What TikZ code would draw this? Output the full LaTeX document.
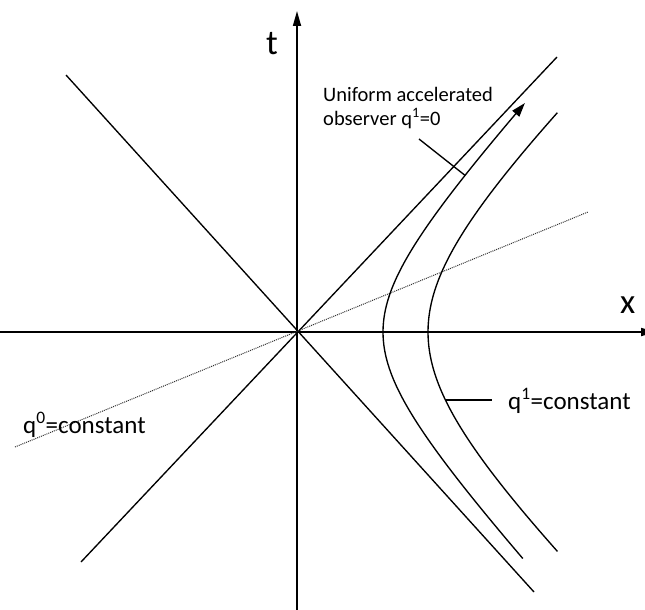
\documentclass[tikz,border=0pt]{standalone}
\usepackage{fontspec}
\setmainfont{Carlito}
\usetikzlibrary{arrows.meta}
\begin{document}
\begin{tikzpicture}[x=1pt,y=-1pt,
  axisline/.style={line width=1.7pt,black},
  thinline/.style={line width=1.35pt,black},
  dotline/.style={line width=1pt,black!80,dash pattern=on 1pt off 1pt},
  lbl/.style={inner sep=0pt,anchor=base west},
  smalltxt/.style={font=\fontsize{20.5}{24}\selectfont},
  midtxt/.style={font=\fontsize{25}{30}\selectfont},
  bigtxt/.style={font=\fontsize{35}{40}\selectfont}]
\useasboundingbox (0,0) rectangle (645,610);
\clip (0,0) rectangle (645,610);
% axes
\coordinate (O) at (297,332);
\coordinate (tb) at (297,615);
\coordinate (tt) at (297,11);
\coordinate (xl) at (-5,332);
\coordinate (xr) at (656,332);
\draw[axisline,-{Triangle[length=15pt,width=8pt]}] (tb) -- (tt);
\draw[axisline,-{Triangle[length=15pt,width=8pt]}] (xl) -- (xr);
% light cone lines
\coordinate (a1) at (66,75);
\coordinate (a2) at (534,592);
\coordinate (b1) at (81,562);
\coordinate (b2) at (557,57);
\draw[thinline] (a1) -- (a2);
\draw[thinline] (b1) -- (b2);
% q0 = constant line
\coordinate (d1) at (15,447);
\coordinate (d2) at (588,212);
\draw[dotline] (d1) -- (d2);
% hyperbolas
\draw[thinline,-{Triangle[length=14pt,width=9pt]}] plot[domain=-1.62:1.63,samples=80,smooth] ({297+43*(exp(\x)+exp(-\x))},{332-46.65*(exp(\x)-exp(-\x))});
\draw[thinline] plot[domain=-1.31:1.31,samples=80,smooth] ({297+65.5*(exp(\x)+exp(-\x))},{332-63.85*(exp(\x)-exp(-\x))});
% pointers
\coordinate (p1) at ({297+43*(exp(1.29)+exp(-1.29))},{332-46.65*(exp(1.29)-exp(-1.29))});
\coordinate (p0) at (419,139);
\draw[thinline] (p0) -- (p1);
\coordinate (p2) at (445.4,400);
\coordinate (p3) at (492,400);
\draw[thinline] (p2) -- (p3);
% labels
\node[lbl,bigtxt] (tlab) at (266,55) {t};
\node[lbl,bigtxt] (xlab) at (620,313) {x};
\node[lbl,smalltxt] (obs1) at (323,101) {Uniform accelerated};
\node[lbl,smalltxt] (obs2) at (323,125) {observer q\textsuperscript{1}=0};
\node[lbl,midtxt] (q1lab) at (508,409) {q\textsuperscript{1}=constant};
\node[lbl,midtxt] (q0lab) at (23,433) {q\textsuperscript{0}=constant};
\end{tikzpicture}
\end{document}
